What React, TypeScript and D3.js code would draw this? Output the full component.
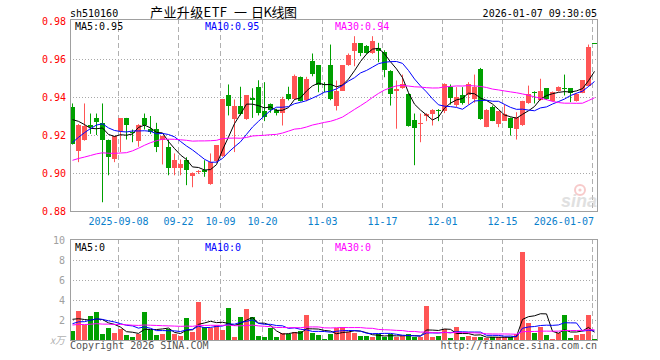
import React from 'react';
import * as d3 from 'd3';

// ---------- data ----------
const opens = [
  0.9346, 0.9115, 0.9176, 0.9255, 0.9287, 0.9264, 0.9176, 0.9075, 0.9220, 0.9287,
  0.9218, 0.9168, 0.9287, 0.9229, 0.9229, 0.9176, 0.9136, 0.9027, 0.9025, 0.9071,
  0.8983, 0.9003, 0.9015, 0.8940, 0.9062, 0.9088, 0.9408, 0.9285, 0.9355, 0.9285,
  0.9395, 0.9454, 0.9325, 0.9364, 0.9334, 0.9317, 0.9418, 0.9387, 0.9506, 0.9382,
  0.9587, 0.9566, 0.9470, 0.9566, 0.9355, 0.9434, 0.9566, 0.9641, 0.9682, 0.9671,
  0.9629, 0.9659, 0.9638, 0.9539, 0.9434, 0.9445, 0.9418, 0.9278, 0.9257, 0.9299,
  0.9308, 0.9334, 0.9325, 0.9452, 0.9357, 0.9408, 0.9408, 0.9387, 0.9550, 0.9243,
  0.9346, 0.9259, 0.9276, 0.9290, 0.9233, 0.9250, 0.9366, 0.9427, 0.9383, 0.9445,
  0.9378, 0.9430, 0.9445, 0.9445, 0.9378, 0.9422, 0.9457, 0.9685,
];
const closes = [
  0.9154, 0.9255, 0.9245, 0.9243, 0.9267, 0.9176, 0.9083, 0.9194, 0.9287, 0.9255,
  0.9208, 0.9255, 0.9255, 0.9215, 0.9136, 0.9194, 0.9027, 0.9071, 0.9046, 0.9015,
  0.9001, 0.9012, 0.9005, 0.9057, 0.9145, 0.9387, 0.9355, 0.9355, 0.9308, 0.9408,
  0.9385, 0.9317, 0.9296, 0.9334, 0.9317, 0.9387, 0.9387, 0.9509, 0.9378, 0.9497,
  0.9522, 0.9461, 0.9465, 0.9387, 0.9434, 0.9566, 0.9620, 0.9685, 0.9629, 0.9629,
  0.9697, 0.9641, 0.9541, 0.9418, 0.9443, 0.9466, 0.9246, 0.9238, 0.9264, 0.9313,
  0.9334, 0.9325, 0.9470, 0.9396, 0.9399, 0.9370, 0.9466, 0.9454, 0.9285, 0.9334,
  0.9276, 0.9324, 0.9308, 0.9238, 0.9296, 0.9378, 0.9418, 0.9420, 0.9434, 0.9387,
  0.9427, 0.9454, 0.9440, 0.9422, 0.9418, 0.9487, 0.9662, 0.9685,
];
const highs = [
  0.9366, 0.9258, 0.9366, 0.9313, 0.9313, 0.9366, 0.9176, 0.9194, 0.9287, 0.9290,
  0.9229, 0.9257, 0.9313, 0.9300, 0.9264, 0.9196, 0.9176, 0.9103, 0.9071, 0.9083,
  0.9003, 0.9015, 0.9067, 0.9103, 0.9147, 0.9390, 0.9466, 0.9387, 0.9454, 0.9410,
  0.9446, 0.9488, 0.9478, 0.9366, 0.9338, 0.9401, 0.9454, 0.9518, 0.9508, 0.9506,
  0.9629, 0.9568, 0.9478, 0.9676, 0.9487, 0.9568, 0.9629, 0.9720, 0.9684, 0.9673,
  0.9720, 0.9685, 0.9646, 0.9541, 0.9487, 0.9518, 0.9420, 0.9313, 0.9313, 0.9315,
  0.9336, 0.9336, 0.9472, 0.9466, 0.9452, 0.9452, 0.9478, 0.9518, 0.9553, 0.9336,
  0.9355, 0.9326, 0.9360, 0.9292, 0.9320, 0.9380, 0.9460, 0.9430, 0.9496, 0.9447,
  0.9429, 0.9456, 0.9518, 0.9447, 0.9420, 0.9489, 0.9676, 0.9685,
];
const lows = [
  0.9150, 0.9057, 0.9170, 0.9206, 0.9200, 0.8846, 0.8988, 0.9057, 0.9110, 0.9176,
  0.9162, 0.9138, 0.9229, 0.9206, 0.9110, 0.9045, 0.8988, 0.8988, 0.8988, 0.8936,
  0.8925, 0.8995, 0.8980, 0.8938, 0.9055, 0.9085, 0.9303, 0.9110, 0.9303, 0.9280,
  0.9290, 0.9303, 0.9273, 0.9317, 0.9303, 0.9250, 0.9382, 0.9385, 0.9376, 0.9378,
  0.9509, 0.9425, 0.9425, 0.9383, 0.9329, 0.9432, 0.9564, 0.9562, 0.9615, 0.9627,
  0.9627, 0.9583, 0.9504, 0.9355, 0.9233, 0.9443, 0.9244, 0.9041, 0.9162, 0.9273,
  0.9250, 0.9273, 0.9315, 0.9360, 0.9348, 0.9360, 0.9360, 0.9370, 0.9280, 0.9241,
  0.9273, 0.9241, 0.9274, 0.9197, 0.9176, 0.9248, 0.9364, 0.9366, 0.9381, 0.9385,
  0.9376, 0.9428, 0.9408, 0.9373, 0.9376, 0.9420, 0.9455, 0.9685,
];
// volume in 万 lots
const volumes = [
  0.9, 2.9, 1.5, 2.43, 2.8, 0.6, 1.23, 0.73, 1.1, 0.5,
  0.33, 0.63, 2.8, 0.97, 0.5, 0.63, 1.07, 0.63, 0.4, 2.17,
  0.83, 3.8, 1.33, 1.23, 1.5, 1.0, 3.2, 0.33, 2.3, 3.1,
  2.3, 0.4, 0.3, 1.23, 0.3, 0.73, 0.63, 0.83, 0.9, 2.5,
  0.73, 0.5, 0.13, 0.6, 1.17, 1.33, 0.83, 0.7, 0.4, 0.4,
  0.3, 0.57, 0.33, 0.57, 0.3, 0.37, 0.6, 0.33, 0.33, 3.4,
  0.3, 0.4, 1.07, 0.17, 1.3, 0.3, 0.37, 0.3, 0.3, 0.17,
  0.3, 0.3, 0.3, 0.3, 0.57, 8.83, 1.67, 0.73, 1.33, 0.5,
  0.1, 0.73, 2.5, 0.17, 0.5, 0.63, 2.5, 0.1,
];
// closes / volumes of the 29 sessions before the window (estimated from the MA lines)
const historyCloses = [
  0.897, 0.902, 0.899, 0.901, 0.901, 0.915, 0.921, 0.924, 0.920, 0.892,
  0.884, 0.879, 0.881, 0.882, 0.895, 0.903, 0.909, 0.912, 0.910, 0.913,
  0.898, 0.900, 0.903, 0.908, 0.911, 0.930, 0.933, 0.934, 0.928,
];
const historyVolumes = [
  1.2, 1.8, 1.5, 1.1, 2.0, 1.3, 1.6, 1.2, 1.4, 1.7,
  1.3, 1.5, 1.6, 1.2, 1.4, 1.5, 1.3, 1.2, 1.4, 1.5,
  1.0, 1.4, 0.9, 1.5, 1.15, 2.6, 1.9, 2.8, 2.15,
];
const tickIndex = [8, 18, 25, 32, 42, 52, 62, 72, 87];
const tickLabels = ['2025-09-08', '09-22', '10-09', '10-20', '11-03', '11-17', '12-01', '12-15', '2026-01-07'];
const priceTicks = [0.98, 0.96, 0.94, 0.92, 0.90, 0.88];
const volTicks = [10, 8, 6, 4, 2];
const maPeriods = [5, 10, 30];
const volMaValues = ['0', '0', '0'];
const code = 'sh510160';
const titleParts = ['产业升级ETF', '一', '日K线图'];
const timestamp = '2026-01-07 09:30:05';

// ---------- layout ----------
const W = 660, H = 360;
const L = 70, R = 597;
const PT = 19, PB = 211;
const VT = 239, VB = 340;
const RED = '#ff5555';
const GREEN = '#00a000';
const MA_COLORS = ['#000000', '#0000ff', '#ff00ff'];
const MONO = '"DejaVu Sans Mono", "Liberation Mono", monospace';

function movingAvg(hist: number[], vals: number[], n: number) {
  const all = [...hist, ...vals];
  const off = hist.length;
  return vals.map((_, i) => d3.mean(all.slice(off + i - n + 1, off + i + 1)) as number);
}

export default function App() {
  const N = closes.length;
  const x = d3.scaleLinear().domain([0, N]).range([L, L + 6 * N]);
  const cx = (i: number) => x(i) + 2.5;
  const y = d3.scaleLinear().domain([0.88, 0.98]).range([211, 21]);
  const yv = d3.scaleLinear().domain([0, 10]).range([VB, 240]);

  const priceMA = maPeriods.map((p) => movingAvg(historyCloses, closes, p));
  const volMA = maPeriods.map((p) => movingAvg(historyVolumes, volumes, p));

  const priceLine = d3.line<number>().x((_, i) => cx(i)).y((d) => y(d));
  const volLine = d3.line<number>().x((_, i) => cx(i)).y((d) => yv(d));

  const isUp = (i: number) => closes[i] > opens[i];
  const titleX = [150, 234, 251];
  const titleLen = [77, 13, 46];

  return (
    <svg width={W} height={H} style={{ position: 'absolute', left: 0, top: 0, display: 'block', background: '#fff' }}
      fontFamily={MONO}>
      <rect x={0} y={0} width={W} height={H} fill="#fff" />
      {/* header */}
      <text x={L} y={16.5} fontSize={10} fill="#000">{code}</text>
      <text y={16.5} fontSize={13} fill="#000" fontFamily='"Noto Sans CJK SC", sans-serif'>
        {titleParts.map((t, k) => (
          <tspan key={'tt' + k} x={titleX[k]} textLength={titleLen[k]} lengthAdjust="spacing">{t}</tspan>
        ))}
      </text>
      <text x={R} y={16.5} fontSize={10} fill="#000" textAnchor="end">{timestamp}</text>

      {/* price grid */}
      {priceTicks.slice(1, 5).map((t) => (
        <line key={'hg' + t} x1={L} x2={R} y1={Math.round(y(t)) + 0.5} y2={Math.round(y(t)) + 0.5}
          stroke="#a8a8a8" strokeDasharray="1,2" />
      ))}
      {tickIndex.map((t) => (
        <line key={'vg' + t} x1={x(t) + 0.5} x2={x(t) + 0.5} y1={PT} y2={PB}
          stroke="#b0b0b0" strokeDasharray="5,3" />
      ))}
      {/* watermark */}
      <g opacity={0.55}>
        <circle cx={580} cy={190} r={5} fill="none" stroke="#f2a0a0" strokeWidth={2} />
        <circle cx={580} cy={190} r={1.6} fill="#f2a0a0" />
        <text x={597} y={207} fontSize={18} fontStyle="italic" fontWeight="bold" fill="#c8c8c8"
          textAnchor="end" fontFamily='"Liberation Sans", Arial, sans-serif'>sina</text>
      </g>

      {/* candles */}
      {closes.map((c, i) => {
        const col = isUp(i) ? RED : GREEN;
        const top = Math.round(y(Math.max(opens[i], c)));
        const bot = Math.round(y(Math.min(opens[i], c)));
        return (
          <g key={'c' + i}>
            <line x1={cx(i)} x2={cx(i)} y1={y(highs[i])} y2={y(lows[i])} stroke={col} strokeWidth={1} />
            <rect x={x(i)} y={top} width={5} height={Math.max(1, bot - top)} fill={col} />
          </g>
        );
      })}
      {priceMA.map((m, k) => (
        <path key={'pm' + k} d={priceLine(m) as string} fill="none" stroke={MA_COLORS[k]} strokeWidth={1} />
      ))}
      <rect x={L + 0.5} y={PT + 0.5} width={R - L} height={PB - PT} fill="none" stroke="#a0a0a0" />

      {/* price MA labels */}
      {maPeriods.map((p, k) => (
        <text key={'pl' + p} x={75 + 130 * k} y={29.5} fontSize={10} fill={MA_COLORS[k]}>
          {`MA${p}:${priceMA[k][N - 1].toFixed(2)}`}
        </text>
      ))}
      {/* price axis labels */}
      {priceTicks.map((t) => (
        <text key={'pt' + t} x={66} y={y(t) + 3.6} fontSize={10} fill="#ff0000" textAnchor="end">
          {t.toFixed(2)}
        </text>
      ))}
      {/* date labels */}
      {tickIndex.map((t, k) => {
        const w = tickLabels[k].length * 6.02;
        const c = Math.min(x(t) + 0.5, R - 3 - w / 2);
        return (
          <text key={'dl' + t} x={c} y={225} fontSize={10} fill="#0a80cc" textAnchor="middle">
            {tickLabels[k]}
          </text>
        );
      })}

      {/* volume panel */}
      {volTicks.slice(1).map((t) => (
        <line key={'vh' + t} x1={L} x2={R} y1={Math.round(yv(t)) + 0.5} y2={Math.round(yv(t)) + 0.5}
          stroke="#a8a8a8" strokeDasharray="1,2" />
      ))}
      {tickIndex.map((t) => (
        <line key={'vv' + t} x1={x(t) + 0.5} x2={x(t) + 0.5} y1={VT} y2={VB}
          stroke="#b0b0b0" strokeDasharray="5,3" />
      ))}
      {volumes.map((v, i) => {
        const top = Math.round(yv(v));
        return (
          <rect key={'v' + i} x={x(i)} y={top} width={5} height={Math.max(1, VB - top)}
            fill={isUp(i) ? RED : GREEN} />
        );
      })}
      {volMA.map((m, k) => (
        <path key={'vm' + k} d={volLine(m) as string} fill="none" stroke={MA_COLORS[k]} strokeWidth={1} />
      ))}
      <rect x={L + 0.5} y={VT + 0.5} width={R - L} height={VB - VT} fill="none" stroke="#a0a0a0" />
      {maPeriods.map((p, k) => (
        <text key={'vl' + p} x={75 + 130 * k} y={250.5} fontSize={10} fill={MA_COLORS[k]}>
          {`MA${p}:${volMaValues[k]}`}
        </text>
      ))}
      {volTicks.map((t) => (
        <text key={'vt' + t} x={65} y={yv(t) + 3.6} fontSize={10} fill="#a0a0a0" textAnchor="end">
          {t}
        </text>
      ))}
      <text x={65} y={344} fontSize={10} fill="#b0b0b0" textAnchor="end" fontStyle="italic"
        fontFamily='"Noto Sans CJK SC", sans-serif'>x万</text>

      {/* footer */}
      <text x={L} y={349} fontSize={10} fill="#555">Copyright 2026 SINA.COM</text>
      <text x={R} y={349} fontSize={10} fill="#555" textAnchor="end">http://finance.sina.com.cn</text>
    </svg>
  );
}
